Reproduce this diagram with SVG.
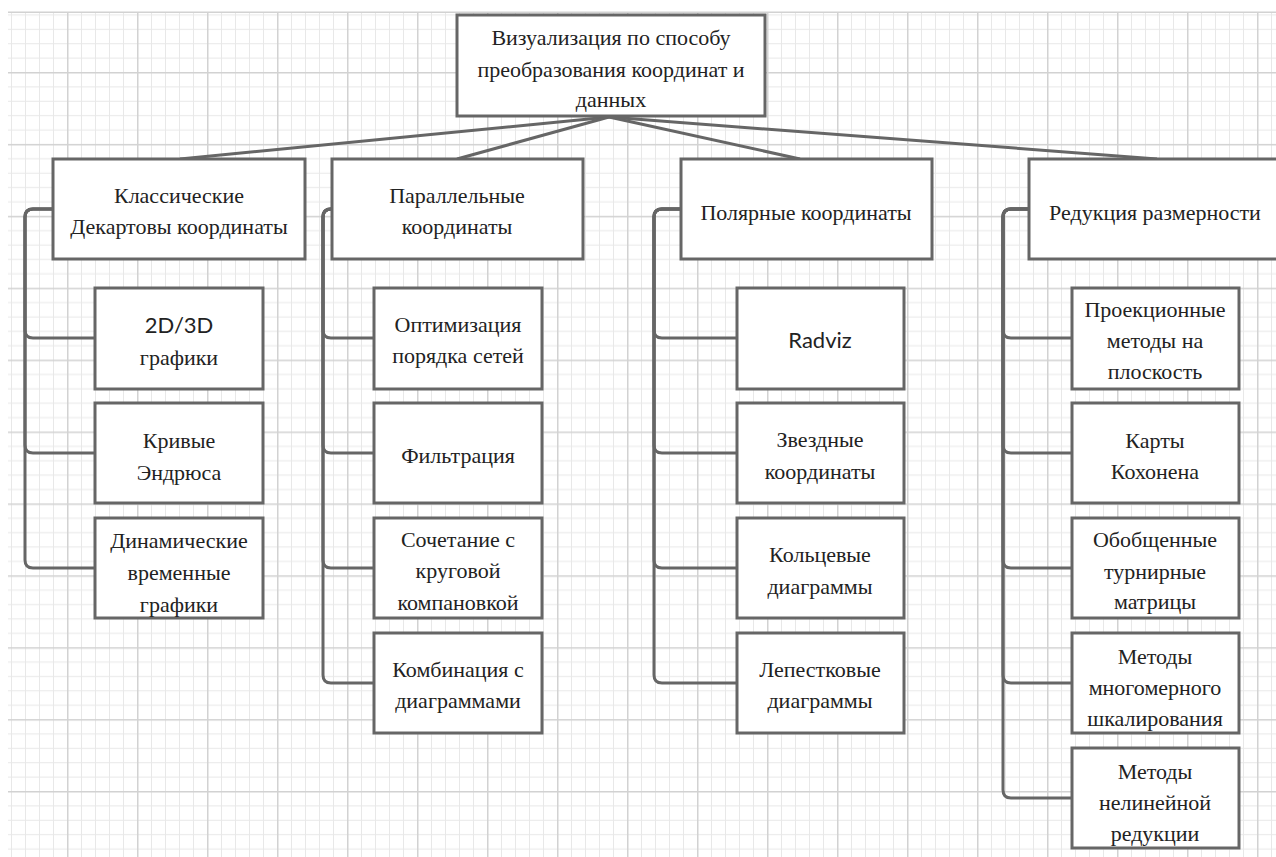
<svg xmlns="http://www.w3.org/2000/svg" width="1276" height="857" viewBox="0 0 1276 857">
<defs>
<pattern id="grid" patternUnits="userSpaceOnUse" x="67" y="72" width="70" height="71.9">
<rect x="14" y="0" width="1" height="71.9" fill="#e8e8e8"/>
<rect x="28" y="0" width="1" height="71.9" fill="#e8e8e8"/>
<rect x="42" y="0" width="1" height="71.9" fill="#e8e8e8"/>
<rect x="56" y="0" width="1" height="71.9" fill="#e8e8e8"/>
<rect x="0" y="14.38" width="70" height="1" fill="#e8e8e8"/>
<rect x="0" y="28.76" width="70" height="1" fill="#e8e8e8"/>
<rect x="0" y="43.14" width="70" height="1" fill="#e8e8e8"/>
<rect x="0" y="57.52" width="70" height="1" fill="#e8e8e8"/>
<rect x="0" y="0" width="1.5" height="71.9" fill="#d2d2d2"/>
<rect x="0" y="0" width="70" height="1.5" fill="#d2d2d2"/>
</pattern>
</defs>
<style>
.box{fill:#ffffff;stroke:#666666;stroke-width:3}
.con{fill:none;stroke:#666666;stroke-width:3}
.t{font-family:"Liberation Serif","Times New Roman",serif;font-size:22px;fill:#222222;text-anchor:middle}
.s{font-family:Lato,"Liberation Sans",sans-serif;font-size:22px;fill:#222222;text-anchor:middle}
</style>
<rect x="0" y="0" width="1276" height="857" fill="#ffffff"/>
<rect x="8" y="12" width="1268" height="845" fill="url(#grid)"/>
<rect x="8" y="11.5" width="1268" height="1.5" fill="#d2d2d2"/>

<g id="connectors">
<path class="con" d="M609 117 L180 159"/>
<path class="con" d="M609 117 L457 159"/>
<path class="con" d="M609 117 L800 159"/>
<path class="con" d="M609 117 L1157 159"/>

<path class="con" d="M53 209 H33 Q25 209 25 217 V330 Q25 338 33 338 H95"/>
<path class="con" d="M53 209 H33 Q25 209 25 217 V445 Q25 453 33 453 H95"/>
<path class="con" d="M53 209 H33 Q25 209 25 217 V560 Q25 568 33 568 H95"/>

<path class="con" d="M332 209 H331 Q323 209 323 217 V330 Q323 338 331 338 H374"/>
<path class="con" d="M332 209 H331 Q323 209 323 217 V445 Q323 453 331 453 H374"/>
<path class="con" d="M332 209 H331 Q323 209 323 217 V560 Q323 568 331 568 H374"/>
<path class="con" d="M332 209 H331 Q323 209 323 217 V675 Q323 683 331 683 H374"/>

<path class="con" d="M681 209 H662 Q654 209 654 217 V330 Q654 338 662 338 H737"/>
<path class="con" d="M681 209 H662 Q654 209 654 217 V445 Q654 453 662 453 H737"/>
<path class="con" d="M681 209 H662 Q654 209 654 217 V560 Q654 568 662 568 H737"/>
<path class="con" d="M681 209 H662 Q654 209 654 217 V675 Q654 683 662 683 H737"/>

<path class="con" d="M1029 209 H1011 Q1003 209 1003 217 V330 Q1003 338 1011 338 H1072"/>
<path class="con" d="M1029 209 H1011 Q1003 209 1003 217 V445 Q1003 453 1011 453 H1072"/>
<path class="con" d="M1029 209 H1011 Q1003 209 1003 217 V560 Q1003 568 1011 568 H1072"/>
<path class="con" d="M1029 209 H1011 Q1003 209 1003 217 V675 Q1003 683 1011 683 H1072"/>
<path class="con" d="M1029 209 H1011 Q1003 209 1003 217 V790 Q1003 798 1011 798 H1072"/>
</g>

<g id="root">
<rect class="box" x="457" y="15" width="308" height="101"/>
<text class="t" x="611" y="45">Визуализация по способу</text>
<text class="t" x="611" y="77">преобразования координат и</text>
<text class="t" x="611" y="107">данных</text>
</g>

<g id="n1">
<rect class="box" x="53" y="159" width="252" height="100"/>
<text class="t" x="179" y="203">Классические</text>
<text class="t" x="179" y="234">Декартовы координаты</text>
</g>
<g id="n2">
<rect class="box" x="332" y="159" width="251" height="100"/>
<text class="t" x="457" y="203">Параллельные</text>
<text class="t" x="457" y="234">координаты</text>
</g>
<g id="n3">
<rect class="box" x="681" y="159" width="251" height="100"/>
<text class="t" x="806" y="220">Полярные координаты</text>
</g>
<g id="n4">
<rect class="box" x="1029" y="159" width="260" height="100"/>
<text class="t" x="1155" y="220">Редукция размерности</text>
</g>

<g id="c1a">
<rect class="box" x="95" y="288" width="168" height="101"/>
<text class="s" x="179" y="333">2D/3D</text>
<text class="t" x="179" y="365">графики</text>
</g>
<g id="c1b">
<rect class="box" x="95" y="403" width="168" height="100"/>
<text class="t" x="179" y="448">Кривые</text>
<text class="t" x="179" y="480">Эндрюса</text>
</g>
<g id="c1c">
<rect class="box" x="95" y="518" width="168" height="100"/>
<text class="t" x="179" y="548">Динамические</text>
<text class="t" x="179" y="580">временные</text>
<text class="t" x="179" y="612">графики</text>
</g>

<g id="c2a">
<rect class="box" x="374" y="288" width="168" height="101"/>
<text class="t" x="458" y="332">Оптимизация</text>
<text class="t" x="458" y="363">порядка сетей</text>
</g>
<g id="c2b">
<rect class="box" x="374" y="403" width="168" height="100"/>
<text class="t" x="458" y="463">Фильтрация</text>
</g>
<g id="c2c">
<rect class="box" x="374" y="518" width="168" height="100"/>
<text class="t" x="458" y="547">Сочетание с</text>
<text class="t" x="458" y="578">круговой</text>
<text class="t" x="458" y="610">компановкой</text>
</g>
<g id="c2d">
<rect class="box" x="374" y="633" width="168" height="100"/>
<text class="t" x="458" y="677">Комбинация с</text>
<text class="t" x="458" y="708">диаграммами</text>
</g>

<g id="c3a">
<rect class="box" x="737" y="288" width="167" height="101"/>
<text class="s" x="820" y="348">Radviz</text>
</g>
<g id="c3b">
<rect class="box" x="737" y="403" width="167" height="100"/>
<text class="t" x="820" y="447">Звездные</text>
<text class="t" x="820" y="479">координаты</text>
</g>
<g id="c3c">
<rect class="box" x="737" y="518" width="167" height="100"/>
<text class="t" x="820" y="562">Кольцевые</text>
<text class="t" x="820" y="594">диаграммы</text>
</g>
<g id="c3d">
<rect class="box" x="737" y="633" width="167" height="100"/>
<text class="t" x="820" y="677">Лепестковые</text>
<text class="t" x="820" y="708">диаграммы</text>
</g>

<g id="c4a">
<rect class="box" x="1072" y="288" width="167" height="101"/>
<text class="t" x="1155" y="317">Проекционные</text>
<text class="t" x="1155" y="348">методы на</text>
<text class="t" x="1155" y="379">плоскость</text>
</g>
<g id="c4b">
<rect class="box" x="1072" y="403" width="167" height="100"/>
<text class="t" x="1155" y="448">Карты</text>
<text class="t" x="1155" y="479">Кохонена</text>
</g>
<g id="c4c">
<rect class="box" x="1072" y="518" width="167" height="100"/>
<text class="t" x="1155" y="547">Обобщенные</text>
<text class="t" x="1155" y="579">турнирные</text>
<text class="t" x="1155" y="609">матрицы</text>
</g>
<g id="c4d">
<rect class="box" x="1072" y="633" width="167" height="100"/>
<text class="t" x="1155" y="664">Методы</text>
<text class="t" x="1155" y="695">многомерного</text>
<text class="t" x="1155" y="726">шкалирования</text>
</g>
<g id="c4e">
<rect class="box" x="1072" y="748" width="167" height="100"/>
<text class="t" x="1155" y="779">Методы</text>
<text class="t" x="1155" y="810">нелинейной</text>
<text class="t" x="1155" y="841">редукции</text>
</g>
</svg>
